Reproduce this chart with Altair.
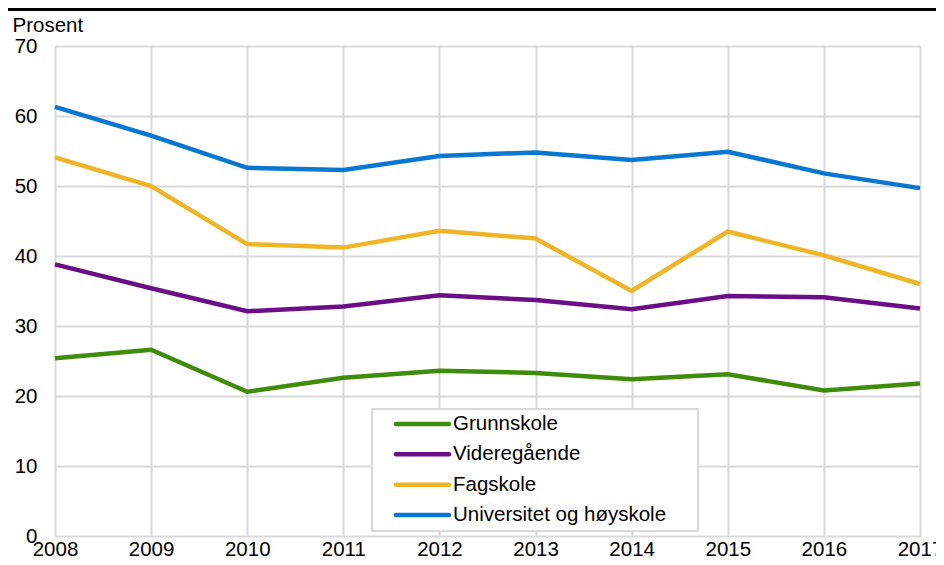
import altair as alt
import pandas as pd

years = [2008, 2009, 2010, 2011, 2012, 2013, 2014, 2015, 2016, 2017]
series = ["Grunnskole", "Videregående", "Fagskole", "Universitet og høyskole"]
colors = ["#3f8b0a", "#6a0d86", "#efb526", "#0877d2"]

grunnskole = [25.4, 26.6, 20.6, 22.6, 23.6, 23.3, 22.4, 23.1, 20.8, 21.8]
videregaende = [38.8, 35.4, 32.1, 32.8, 34.4, 33.7, 32.4, 34.3, 34.1, 32.5]
fagskole = [54.1, 50.0, 41.7, 41.2, 43.6, 42.5, 35.0, 43.5, 40.1, 36.0]
universitet = [61.3, 57.2, 52.6, 52.3, 54.3, 54.8, 53.7, 54.9, 51.8, 49.7]

values = [grunnskole, videregaende, fagskole, universitet]
rows = []
for name, vals in zip(series, values):
    for y, v in zip(years, vals):
        rows.append({"year": y, "value": v, "series": name})
df = pd.DataFrame(rows)
legend_df = pd.DataFrame({"series": series})

FONT = "Liberation Sans"
FS = 20.5

color_enc = alt.Color("series:N", scale=alt.Scale(domain=series, range=colors), legend=None)

lines = alt.Chart(df).mark_line(strokeWidth=4.5, strokeJoin="miter", strokeCap="butt").encode(
    x=alt.X("year:Q",
            scale=alt.Scale(domain=[2008, 2017], nice=False, zero=False),
            axis=alt.Axis(values=years, format="d", title=None, grid=True,
                          gridColor="#d9d9d9", gridWidth=2, domain=False, ticks=False,
                          labelFontSize=FS, labelFont=FONT, labelColor="#000000",
                          labelPadding=3, labelFlush=False, labelOverlap=False, labelBound=False)),
    y=alt.Y("value:Q",
            scale=alt.Scale(domain=[0, 70], nice=False),
            axis=alt.Axis(values=[0, 10, 20, 30, 40, 50, 60, 70], title="Prosent",
                          titleAngle=0, titleAlign="left", titleBaseline="alphabetic",
                          titleX=-43, titleY=-15, titleFont=FONT, titleFontSize=FS,
                          titleFontWeight="normal", titleColor="#000000",
                          grid=True, gridColor="#d9d9d9", gridWidth=2, domain=False, ticks=False,
                          labelFontSize=FS, labelFont=FONT, labelColor="#000000",
                          labelPadding=18, labelFlush=False, labelOverlap=False, labelBound=False)),
    color=color_enc,
)

topline = alt.Chart(pd.DataFrame({"k": [0]})).mark_rule(color="#000000", strokeWidth=3).encode(
    x=alt.value(-47), x2=alt.value(881), y=alt.value(-36.5)
)

legend_box = alt.Chart(pd.DataFrame({"k": [0]})).mark_rect(
    fill="white", stroke="#d9d9d9", strokeWidth=2
).encode(x=alt.value(317), x2=alt.value(643), y=alt.value(363), y2=alt.value(485))

leg_y = alt.Y("series:N", scale=alt.Scale(type="point", domain=series, range=[378, 469], padding=0),
              axis=None)

legend_sym = alt.Chart(legend_df).mark_rule(strokeWidth=4.5, strokeCap="round").encode(
    x=alt.value(341), x2=alt.value(394), y=leg_y, color=color_enc
)

legend_txt = alt.Chart(legend_df).mark_text(
    align="left", baseline="middle", font=FONT, fontSize=FS, color="#000000"
).encode(x=alt.value(398), y=leg_y, text="series:N")

chart = alt.layer(lines, topline, legend_box, legend_sym, legend_txt).resolve_scale(
    y="independent"
).properties(
    width=865, height=490,
    autosize=alt.AutoSizeParams(type="none"),
    padding={"left": 47, "top": 38, "right": 16, "bottom": 21},
).configure_view(stroke=None).configure(background="white")

chart.save("out.html", embed_options={"renderer": "svg", "actions": False})
